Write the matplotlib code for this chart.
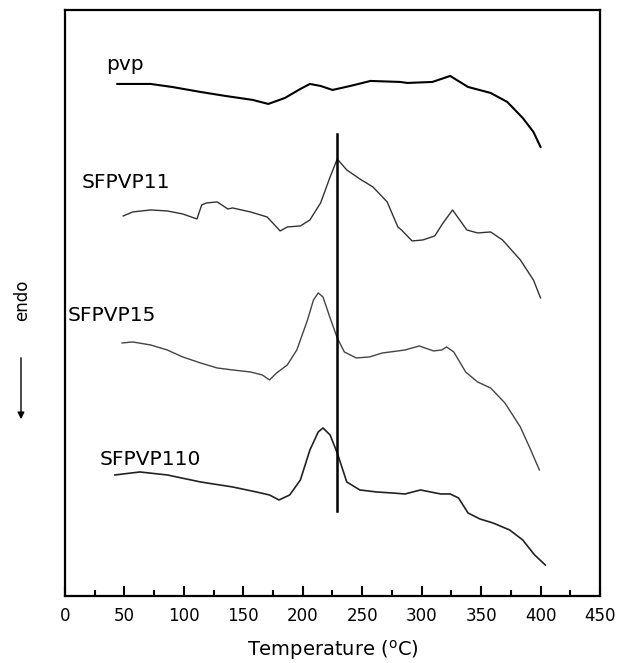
import matplotlib
matplotlib.use('Agg')
import matplotlib.pyplot as plt

plt.rcParams['font.family'] = ['DejaVu Sans']

# DSC traces (arbitrary heat-flow units, curves already offset)
pvp_T = [44, 60, 72, 90, 114, 135, 158, 171, 185, 198, 206, 215, 225, 240, 257,
         282, 288, 309, 324, 339, 358, 372, 385, 394, 400]
pvp_y = [512, 512, 512, 509, 504, 500, 496, 492, 498, 507, 512, 510, 506, 510, 515,
         514, 513, 514, 520, 509, 503, 494, 478, 464, 449]

sf11_T = [49, 57, 72, 86, 99, 111, 115, 119, 128, 137, 141, 156, 170, 181, 187,
          198, 206, 215, 223, 229, 237, 248, 259, 271, 280, 283, 292, 301, 311,
          318, 326, 338, 347, 358, 368, 383, 394, 400]
sf11_y = [380, 384, 386, 385, 382, 377, 391, 393, 394, 387, 388, 384, 379, 365, 369,
          370, 376, 393, 419, 437, 426, 417, 409, 394, 369, 366, 355, 356, 360,
          373, 386, 366, 363, 364, 356, 336, 316, 298]

sf15_T = [48, 57, 72, 86, 99, 114, 128, 141, 156, 166, 172, 178, 187, 195, 204,
          209, 213, 217, 223, 229, 235, 245, 256, 267, 280, 286, 298, 310, 317,
          321, 327, 331, 337, 347, 358, 370, 383, 391, 399]
sf15_y = [253, 254, 251, 246, 239, 233, 228, 226, 224, 221, 216, 223, 231, 246, 276,
          296, 303, 299, 278, 258, 244, 238, 239, 243, 245, 246, 250, 245, 246,
          249, 244, 236, 224, 214, 208, 193, 169, 148, 126]

sf110_T = [42, 63, 86, 114, 141, 161, 172, 180, 189, 198, 206, 213, 217, 223, 229,
           237, 248, 262, 275, 286, 299, 316, 324, 331, 339, 349, 360, 374, 385,
           395, 404]
sf110_y = [121, 124, 121, 114, 109, 104, 101, 96, 101, 116, 146, 164, 168, 161, 143,
           114, 106, 104, 103, 102, 106, 102, 102, 98, 83, 77, 73, 66, 56, 41, 31]

labels = ['pvp', 'SFPVP11', 'SFPVP15', 'SFPVP110']
label_x = [35, 14, 2, 29]
label_y = [531, 413, 280, 136]

marker_T = 229
marker_y = [85, 462]

fig = plt.figure(figsize=(6.29, 6.63), dpi=100)
ax = fig.add_axes([0.1033, 0.1011, 0.8506, 0.8839])

ax.plot(pvp_T, pvp_y, color='black', lw=1.5)
ax.plot(sf11_T, sf11_y, color='#333333', lw=1.0)
ax.plot(sf15_T, sf15_y, color='#444444', lw=1.0)
ax.plot(sf110_T, sf110_y, color='#222222', lw=1.2)
ax.plot([marker_T, marker_T], marker_y, color='black', lw=1.8)

for lab, lx, ly in zip(labels, label_x, label_y):
    ax.text(lx, ly, lab, fontsize=14.5, va='center', ha='left')

ax.set_xlim(0, 450)
ax.set_ylim(0, 586)
ax.set_xticks(range(0, 451, 50))
ax.set_xticks(range(25, 450, 50), minor=True)
ax.set_yticks([])
ax.tick_params(axis='x', which='major', direction='in', length=7, width=1.5,
               labelsize=12, pad=8)
ax.tick_params(axis='x', which='minor', direction='in', length=4, width=1.5)
for s in ax.spines.values():
    s.set_linewidth(1.6)

ax.set_xlabel('Temperature ($^{\\mathrm{o}}$C)', fontsize=14, labelpad=9)

# endo arrow on the left
fig.text(22 / 629, 1 - 300 / 663, 'endo', rotation=90, fontsize=12,
         ha='center', va='center')
fig.add_artist(matplotlib.patches.FancyArrowPatch(
    (21 / 629, 1 - 355 / 663), (21 / 629, 1 - 422 / 663),
    transform=fig.transFigure, arrowstyle='-|>', mutation_scale=10,
    color='black', lw=1))

fig.savefig('out.png', dpi=100)
